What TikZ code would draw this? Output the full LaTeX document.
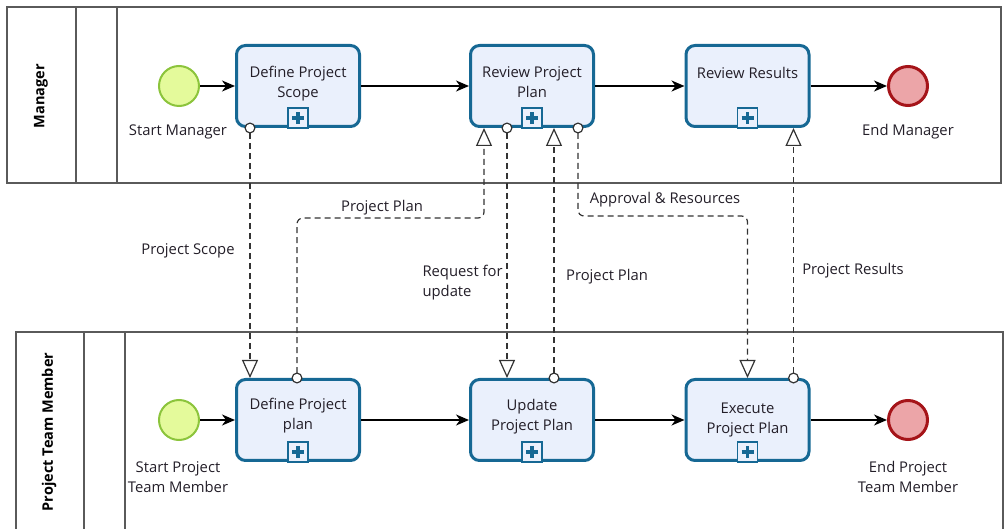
\documentclass[tikz,border=0pt]{standalone}
\usepackage{fontspec}
\setmainfont{Open Sans}
\usepackage{tikz}
\usetikzlibrary{arrows.meta,calc}

\definecolor{taskblue}{RGB}{22,104,148}
\definecolor{taskfill}{RGB}{234,240,252}
\definecolor{startfill}{RGB}{228,250,155}
\definecolor{startline}{RGB}{140,196,60}
\definecolor{endfill}{RGB}{236,165,168}
\definecolor{endline}{RGB}{165,20,25}
\definecolor{poolline}{RGB}{90,90,90}
\definecolor{txt}{RGB}{35,30,40}

\tikzset{
	pool/.style={draw=poolline,line width=1.2pt},
	poollabel/.style={rotate=90,text=black,font=\fontsize{14.5}{16}\selectfont\bfseries},
	task/.style={draw=taskblue,fill=taskfill,line width=3pt,rounded corners=9pt,
		minimum width=123pt,minimum height=81pt},
	tasktext/.style={anchor=north,align=center,text=txt,inner sep=0pt,
		font=\fontsize{14.8}{20}\selectfont},
	marker/.style={draw=taskblue,fill=taskfill,line width=1.5pt,minimum size=20pt,inner sep=0pt,
		path picture={\draw[taskblue,line width=3.5pt]
			([xshift=-6pt]path picture bounding box.center) -- ([xshift=6pt]path picture bounding box.center)
			([yshift=-6pt]path picture bounding box.center) -- ([yshift=6pt]path picture bounding box.center);}},
	startev/.style={circle,draw=startline,fill=startfill,line width=2pt,minimum size=40pt,inner sep=0pt},
	endev/.style={circle,draw=endline,fill=endfill,line width=3pt,minimum size=39pt,inner sep=0pt},
	evlabel/.style={align=center,text=txt,font=\fontsize{14.8}{20.5}\selectfont},
	flowlabel/.style={align=left,text=txt,font=\fontsize{14.8}{20}\selectfont},
	seq/.style={draw=black,line width=1.4pt,-{Stealth[length=13pt,width=11pt,inset=4pt]}},
	msg/.style={draw=black!80,line width=1.2pt,dash pattern=on 6pt off 4pt,
		{Circle[fill=white,length=11pt,width=11pt]}-{Triangle[open,length=18pt,width=16pt]},
		shorten <=-5.5pt}
}

\begin{document}
\begin{tikzpicture}[x=1pt,y=-1pt]
	\useasboundingbox (0,0) rectangle (1005,529);
	
	%pools
	\draw[pool] (7,7) rectangle (1001,183);
	\draw[pool] (76,7) -- (76,183);
	\draw[pool] (117,7) -- (117,183);
	%
	\draw[pool] (16,531) -- (16,332) -- (1003,332) -- (1003,531);
	\draw[pool] (84,332) -- (84,531);
	\draw[pool] (125,332) -- (125,531);
	
	%pool labels
	\node[poollabel] (mgr)  at (41,96)  {Manager};
	\node[poollabel] (team) at (49,432) {Project Team Member};
	
	%events
	\node[startev] (startm) at (179,86)  {};
	\node[endev]   (endm)   at (908,86)  {};
	\node[startev] (startt) at (179,420) {};
	\node[endev]   (endt)   at (908,420) {};
	
	%tasks
	\node[task] (scope)   at (298,86)    {};
	\node[task] (review)  at (532,86)    {};
	\node[task] (results) at (747.5,86)  {};
	%
	\node[task] (defplan) at (298,420)   {};
	\node[task] (update)  at (532,420)   {};
	\node[task] (execute) at (747.5,420) {};
	
	%inner labels
	\node[tasktext] (scopetxt)   at ([yshift=-22pt]scope.north)   {Define Project\\Scope};
	\node[tasktext] (reviewtxt)  at ([yshift=-22pt]review.north)  {Review Project\\Plan};
	\node[tasktext] (resultstxt) at ([yshift=-23pt]results.north) {Review Results};
	\node[tasktext] (defplantxt) at ([yshift=-20pt]defplan.north) {Define Project\\plan};
	\node[tasktext] (updatetxt)  at ([yshift=-21pt]update.north)  {Update\\Project Plan};
	\node[tasktext] (executetxt) at ([yshift=-25pt]execute.north) {Execute\\Project Plan};
	
	%markers
	\foreach \t in {scope,review,results,defplan,update,execute}
		\node[marker] (mark-\t) at ([yshift=10pt]\t.south) {};
	
	%event labels
	\node[evlabel] (startmtxt) at (178,132) {Start Manager};
	\node[evlabel] (endmtxt)   at (908,132) {End Manager};
	\node[evlabel] (starttxt)  at (178,477) {Start Project\\Team Member};
	\node[evlabel] (endttxt)   at (908,477) {End Project\\Team Member};
	
	%sequence flows
	\draw[seq] (startm)  -- (scope);
	\draw[seq] (scope)   -- (review);
	\draw[seq] (review)  -- (results);
	\draw[seq] (results) -- (endm);
	%
	\draw[seq] (startt)  -- (defplan);
	\draw[seq] (defplan) -- (update);
	\draw[seq] (update)  -- (execute);
	\draw[seq] (execute) -- (endt);
	
	%message flows
	\draw[msg] ([xshift=-48pt]scope.south) -- ([xshift=-48pt]defplan.north);
	\draw[msg,rounded corners=6pt] ([xshift=-1pt]defplan.north) -- ++(0,-160) -| ([xshift=-48pt]review.south);
	\draw[msg] ([xshift=-25pt]review.south) -- ([xshift=-25pt]update.north);
	\draw[msg] ([xshift=22pt]update.north) -- ([xshift=22pt]review.south);
	\draw[msg,rounded corners=6pt] ([xshift=46pt]review.south) -- ++(0,88) -| (execute.north);
	\draw[msg] ([xshift=46pt]execute.north) -- ([xshift=46pt]results.south);
	
	%flow labels
	\node[flowlabel] (lscope)   at (188,251) {Project Scope};
	\node[flowlabel] (lplan)    at (382,208) {Project Plan};
	\node[flowlabel,anchor=west] (lrequest) at (419,283) {Request for\\update};
	\node[flowlabel] (lplanback) at (607,277) {Project Plan};
	\node[flowlabel] (lapproval) at (665,200) {Approval \& Resources};
	\node[flowlabel] (lresults)  at (853,271) {Project Results};
\end{tikzpicture}
\end{document}
